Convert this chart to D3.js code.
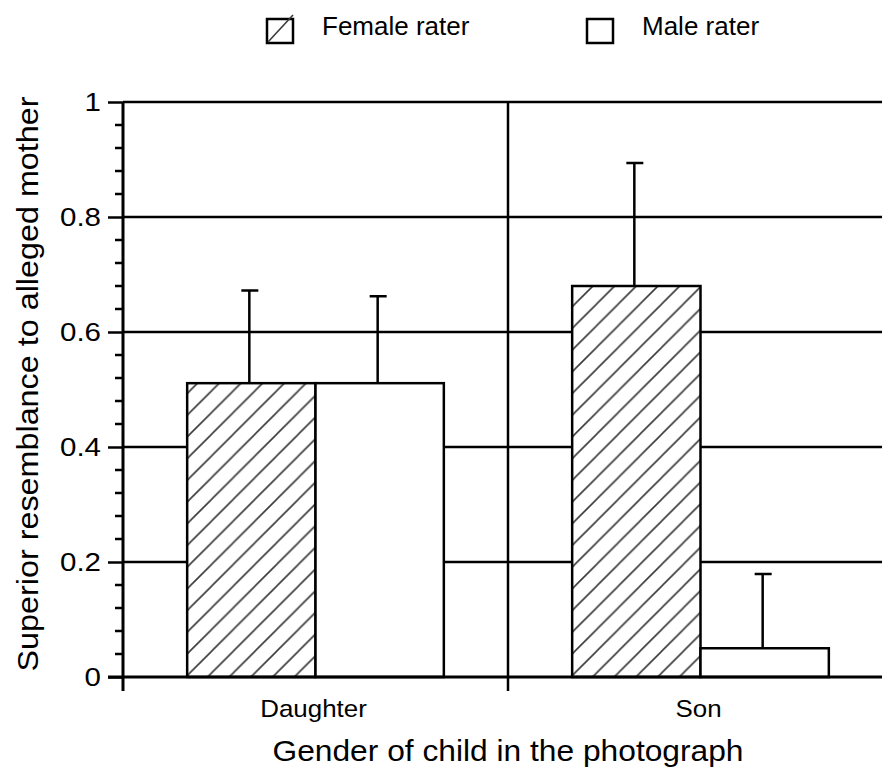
<!DOCTYPE html>
<html>
<head>
<meta charset="utf-8">
<script src="https://cdn.jsdelivr.net/npm/d3@7"></script>
<style>
  html, body { margin: 0; padding: 0; background: #fff; }
  svg { display: block; }
  text { font-family: "Liberation Sans", Arial, Helvetica, sans-serif; fill: #000; }
</style>
</head>
<body>
<svg id="chart" width="882" height="767"></svg>
<script>
// ---- data ----
const categories = ["Daughter", "Son"];
const series = ["Female rater", "Male rater"];
const femaleValues = [0.511, 0.680];
const maleValues = [0.511, 0.050];
const femaleErrTop = [0.672, 0.894];
const maleErrTop = [0.662, 0.179];
const yTicks = [0, 0.2, 0.4, 0.6, 0.8, 1];
const yTickLabels = ["0", "0.2", "0.4", "0.6", "0.8", "1"];
const xTitle = "Gender of child in the photograph";
const yTitle = "Superior resemblance to alleged mother";

const rows = categories.map((c, i) => ({
  cat: c,
  bars: [
    { s: series[0], v: femaleValues[i], e: femaleErrTop[i] },
    { s: series[1], v: maleValues[i], e: maleErrTop[i] }
  ]
}));

// ---- layout ----
const svg = d3.select("#chart");
const x0 = 123, x1 = 893, yTop = 102, yBot = 677;

const x = d3.scaleBand().domain(categories).range([x0, x1]).padding(0);
const xs = d3.scaleBand().domain(series).range([0, x.bandwidth()]).paddingInner(0).paddingOuter(0.5);
const y = d3.scaleLinear().domain([0, 1]).range([yBot, yTop]);

// hatch pattern
const defs = svg.append("defs");
const hp = 21.7;
const pat = defs.append("pattern")
  .attr("id", "hatch").attr("patternUnits", "userSpaceOnUse")
  .attr("width", hp).attr("height", hp)
  .attr("x", 2).attr("y", 0);
pat.append("rect").attr("width", hp).attr("height", hp).attr("fill", "#fff");
pat.append("path")
  .attr("d", `M${-hp},${hp} L${hp},${-hp} M0,${2*hp} L${2*hp},0 M0,${hp} L${hp},0`)
  .attr("stroke", "#3a3a3a").attr("stroke-width", 1.6).attr("fill", "none");

// gridlines
svg.append("g").selectAll("line")
  .data(yTicks.filter(d => d > 0))
  .join("line")
  .attr("x1", x0).attr("x2", 882)
  .attr("y1", d => y(d)).attr("y2", d => y(d))
  .attr("stroke", "#000").attr("stroke-width", 2.5);

// bars
const g = svg.append("g");
const grp = g.selectAll("g.cat").data(rows).join("g")
  .attr("transform", d => `translate(${x(d.cat)},0)`);

grp.selectAll("rect").data(d => d.bars).join("rect")
  .attr("x", d => xs(d.s))
  .attr("width", xs.bandwidth())
  .attr("y", d => y(d.v))
  .attr("height", d => y(0) - y(d.v))
  .attr("fill", d => d.s === series[0] ? "url(#hatch)" : "#fff")
  .attr("stroke", "#000").attr("stroke-width", 2.5);

// error bars
grp.selectAll("path.err").data(d => d.bars).join("path")
  .attr("class", "err")
  .attr("d", d => {
    const cx = xs(d.s) + xs.bandwidth() / 2 - 2;
    return `M${cx},${y(d.v)} V${y(d.e)} M${cx - 8},${y(d.e)} H${cx + 9}`;
  })
  .attr("stroke", "#000").attr("stroke-width", 2.5).attr("fill", "none");

// baseline
svg.append("line")
  .attr("x1", 108).attr("x2", 882).attr("y1", y(0)).attr("y2", y(0))
  .attr("stroke", "#000").attr("stroke-width", 3);

// category divider
svg.append("line")
  .attr("x1", x(categories[1])).attr("x2", x(categories[1]))
  .attr("y1", y(1)).attr("y2", y(0) + 14)
  .attr("stroke", "#000").attr("stroke-width", 2.5);

// y axis
const yAxis = d3.axisLeft(y)
  .tickValues(yTicks)
  .tickSize(15)
  .tickFormat((d, i) => yTickLabels[i]);
const ya = svg.append("g").attr("transform", `translate(${x0},0)`).call(yAxis);
ya.select(".domain").remove();
ya.selectAll(".tick line").attr("stroke", "#000").attr("stroke-width", 2.5);
ya.selectAll(".tick text").remove();
ya.append("line").attr("x1", 0).attr("x2", 0).attr("y1", y(1)).attr("y2", y(0) + 14)
  .attr("stroke", "#000").attr("stroke-width", 3);

// minor ticks
const minor = d3.range(0, 1.0001, 0.04).filter(v => yTicks.every(t => Math.abs(t - v) > 1e-6));
ya.append("g").selectAll("line").data(minor).join("line")
  .attr("x1", -8).attr("x2", 0).attr("y1", d => y(d)).attr("y2", d => y(d))
  .attr("stroke", "#000").attr("stroke-width", 2.5);

// tick labels
svg.append("g").selectAll("text").data(yTicks).join("text")
  .attr("transform", d => `translate(101,${y(d) + 9}) scale(1.18,1)`)
  .attr("text-anchor", "end")
  .style("font-size", "25px")
  .text((d, i) => yTickLabels[i]);

// category labels
svg.append("g").selectAll("text").data(categories).join("text")
  .attr("x", d => x(d) + x.bandwidth() / 2 - 2)
  .attr("y", 717)
  .attr("text-anchor", "middle")
  .style("font-size", "24px")
  .attr("transform", d => {
    const cx = x(d) + x.bandwidth() / 2 - 2;
    return `translate(${cx},0) scale(1.08,1) translate(${-cx},0)`;
  })
  .text(d => d);

// axis titles
svg.append("text")
  .attr("x", 508).attr("y", 761)
  .attr("text-anchor", "middle")
  .style("font-size", "29px")
  .attr("textLength", 471).attr("lengthAdjust", "spacingAndGlyphs")
  .text(xTitle);

svg.append("text")
  .attr("transform", `translate(38,${384}) rotate(-90)`)
  .attr("text-anchor", "middle")
  .style("font-size", "29px")
  .attr("textLength", 575).attr("lengthAdjust", "spacingAndGlyphs")
  .text(yTitle);

// legend
const legendX = [267, 587];
const lg = svg.append("g").selectAll("g").data(series).join("g")
  .attr("transform", (d, i) => `translate(${legendX[i]},19)`);
lg.append("rect").attr("width", 26).attr("height", 24)
  .attr("fill", "#fff").attr("stroke", "#000").attr("stroke-width", 2.5);
lg.filter((d, i) => i === 0).append("line")
  .attr("x1", 1).attr("y1", 23).attr("x2", 26).attr("y2", -4)
  .attr("stroke", "#3a3a3a").attr("stroke-width", 1.6);
lg.append("text").attr("x", 55).attr("y", 16)
  .style("font-size", "26px")
  .text(d => d);
</script>
</body>
</html>
